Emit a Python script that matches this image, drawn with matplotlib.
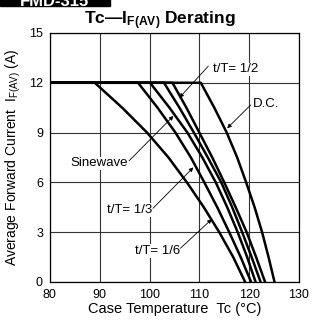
import matplotlib.pyplot as plt
from matplotlib.patches import Rectangle

plt.rcParams['font.family'] = ['Liberation Sans', 'DejaVu Sans']
plt.rcParams['mathtext.fontset'] = 'custom'
plt.rcParams['mathtext.rm'] = 'Liberation Sans'
plt.rcParams['mathtext.bf'] = 'Liberation Sans:bold'

# current levels (A) at which the curves were read
corriente = [12, 10.5, 9, 7.5, 6, 4.5, 3, 1.5, 0]

# case temperature (degC) of each curve at those levels
t_1_6 = [89.0, 94.5, 99.5, 103.8, 107.5, 110.9, 114.0, 116.8, 119.2]
t_1_3 = [97.7, 101.6, 105.2, 108.3, 111.0, 113.6, 116.0, 118.3, 120.4]
t_seno = [100.1, 104.0, 107.6, 110.6, 113.3, 115.6, 117.7, 119.6, 121.3]
t_otra = [102.9, 106.0, 108.9, 111.7, 114.4, 116.6, 118.6, 120.5, 122.3]
t_1_2 = [104.6, 107.4, 110.0, 112.6, 115.0, 117.3, 119.5, 121.4, 123.2]
t_dc = [110.3, 113.0, 115.5, 117.6, 119.4, 121.1, 122.6, 123.9, 125.1]

curvas = [t_1_6, t_1_3, t_seno, t_otra, t_1_2, t_dc]

x_ticks = [80, 90, 100, 110, 120, 130]
y_ticks = [0, 3, 6, 9, 12, 15]

fig = plt.figure(figsize=(3.14, 3.23), dpi=100)
ax = fig.add_axes([0.159, 0.127, 0.793, 0.771])

for t in curvas:
    ax.plot([80] + t, [12] + corriente, color='black', lw=1.8,
            solid_joinstyle='round', zorder=3)

ax.set_xlim(80, 130)
ax.set_ylim(0, 15)
ax.set_xticks(x_ticks)
ax.set_yticks(y_ticks)
ax.tick_params(length=0, labelsize=9)
ax.tick_params(axis='x', pad=5)
ax.tick_params(axis='y', pad=5)
ax.grid(True, color='#333333', lw=0.8)
for s in ax.spines.values():
    s.set_linewidth(0.9)

ax.set_xlabel('Case Temperature  Tc (\u00b0C)', fontsize=10.5, labelpad=1)
ax.set_ylabel(r'Average Forward Current  I$_{\mathrm{F(AV)}}$ (A)',
              fontsize=10, labelpad=4)
fig.text(0.51, 0.937, r'$\mathbf{Tc—I_{F(AV)}}$ Derating', ha='center',
         va='center', fontsize=12.5, fontweight='bold')

# black header box cut at the top edge
fig.patches.append(Rectangle((0, 0.982), 0.35, 0.02, transform=fig.transFigure,
                             color='black'))
fig.text(0.175, 0.995, 'FMD-315', color='white', fontsize=12, fontweight='bold',
         ha='center', va='center')

caja = dict(facecolor='white', edgecolor='none', pad=0.5)
flecha = dict(arrowstyle='-|>', color='black', lw=0.6, mutation_scale=6,
              shrinkA=0, shrinkB=0)

etiquetas = [
    ('t/T= 1/2', (112.8, 12.8), (111.8, 13.0), (106.0, 11.1), 'left'),
    ('D.C.', (120.8, 10.75), (120.3, 10.66), (115.6, 9.26), 'left'),
    ('Sinewave', (95.6, 7.15), (95.9, 7.3), (104.8, 10.0), 'right'),
    ('t/T= 1/3', (100.5, 4.34), (100.7, 4.44), (108.8, 6.9), 'right'),
    ('t/T= 1/6', (106.1, 1.87), (106.2, 2.03), (112.5, 3.78), 'right'),
]
for texto, pos, cola, punta, alin in etiquetas:
    ax.annotate('', xy=punta, xytext=cola, arrowprops=flecha, zorder=4)
    ax.text(pos[0], pos[1], texto, fontsize=9.5, ha=alin, va='center',
            bbox=caja, zorder=2)

fig.savefig('out.png', dpi=100)
